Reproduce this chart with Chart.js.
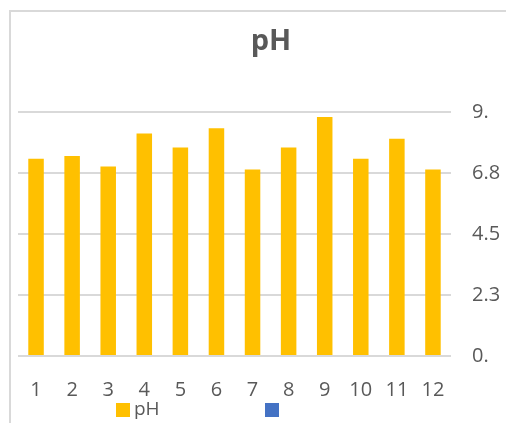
<!DOCTYPE html>
<html>
<head>
<meta charset="utf-8">
<script src="https://cdn.jsdelivr.net/npm/chart.js@4.4.1/dist/chart.umd.min.js"></script>
<style>
  html, body { margin: 0; padding: 0; background: #fff; }
  #wrap { position: relative; width: 506px; height: 423px; overflow: hidden; }
  #frame { position: absolute; left: 9px; top: 10px; right: -10px; bottom: -10px;
           border-left: 2px solid #d9d9d9; border-top: 2px solid #d9d9d9; }
  #title { position: absolute; left: 171px; width: 200px; top: 19px; text-align: center;
           font: bold 29px "Open Sans", sans-serif; color: #595959; }
  .leg { position: absolute; top: 403px; width: 14px; height: 14px; }
  .legtxt { position: absolute; top: 395px; font: 19px "Open Sans", sans-serif; color: #595959; }
  canvas { position: absolute; left: 0; top: 0; }
</style>
</head>
<body>
<div id="wrap">
  <div id="frame"></div>
  <canvas id="phChart" width="506" height="423"></canvas>
  <div id="title">pH</div>
  <div class="leg" style="left:116px;background:#FFC000"></div>
  <div class="legtxt" style="left:134px">pH</div>
  <div class="leg" style="left:265px;background:#4472C4"></div>
</div>
<script>
// data
const categories = ["1", "2", "3", "4", "5", "6", "7", "8", "9", "10", "11", "12"];
const phValues = [7.28, 7.38, 6.99, 8.21, 7.69, 8.4, 6.88, 7.69, 8.82, 7.28, 8.01, 6.88];
const tickValues = [0, 2.25, 4.5, 6.75, 9];
const tickLabels = ["0.", "2.3", "4.5", "6.8", "9."];

const ctx = document.getElementById("phChart");

new Chart(ctx, {
  type: "bar",
  data: {
    labels: categories,
    datasets: [
      {
        label: "pH",
        data: phValues,
        backgroundColor: "#FFC000",
        borderWidth: 0,
        barPercentage: 0.43,
        categoryPercentage: 1,
      },
    ],
  },
  options: {
    responsive: false,
    animation: false,
    layout: { padding: { left: 18, right: 0, top: 112, bottom: 0 } },
    plugins: {
      legend: { display: false },
      title: { display: false },
      tooltip: { enabled: false },
    },
    scales: {
      x: {
        grid: { display: false },
        border: { display: false },
        ticks: {
          color: "#595959",
          font: { family: "Open Sans", size: 20 },
          padding: 14,
          maxRotation: 0,
        },
        afterFit: (s) => { s.height = 67; },
      },
      y: {
        position: "right",
        min: 0,
        max: 9,
        afterBuildTicks: (s) => { s.ticks = tickValues.map((v) => ({ value: v })); },
        grid: { color: "#d9d9d9", lineWidth: 2, drawTicks: false },
        border: { display: false },
        ticks: {
          color: "#595959",
          font: { family: "Open Sans", size: 20 },
          padding: 21,
          callback: (v, i) => tickLabels[i],
        },
        afterFit: (s) => { s.width = 55; },
      },
    },
  },
});
</script>
</body>
</html>
